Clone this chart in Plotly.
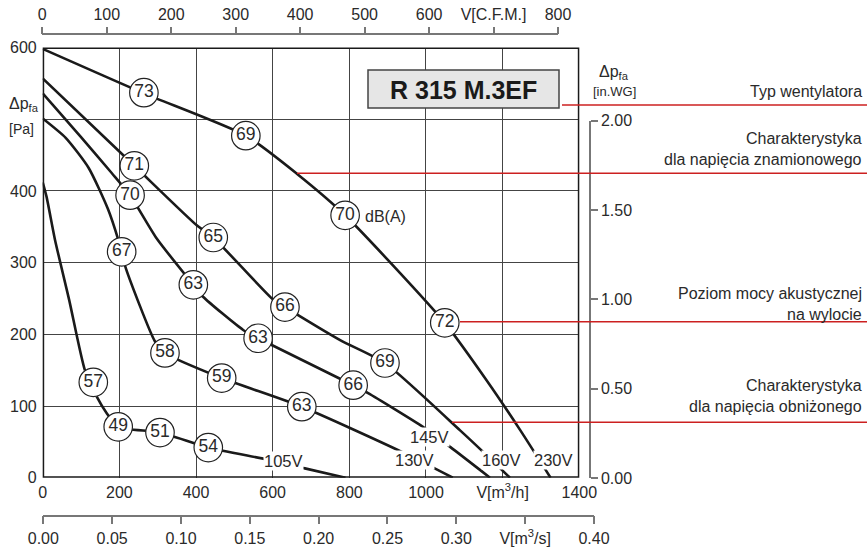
import plotly.graph_objects as go

W, H = 867, 549
FONT = "Liberation Sans, Arial, sans-serif"
TXT = "#2a2a2a"

# ---- data (V in m3/h, dp in Pa) ----
c230_x = [0, 264, 530, 663, 789, 1049, 1158, 1245, 1325]
c230_y = [598, 536, 477, 424, 366, 216, 136, 67, 0]
c160_x = [0, 239, 402, 445, 602, 632, 776, 893, 1089, 1149, 1219]
c160_y = [557, 435, 352, 335, 248, 238, 192, 160, 66, 36, 0]
c145_x = [0, 100, 180, 228, 297, 393, 419, 523, 562, 810, 849, 992, 1063, 1167]
c145_y = [536, 475, 425, 394, 334, 269, 252, 206, 194.5, 129, 118, 71, 43, 0]
c130_x = [0, 60, 120, 170, 197, 217, 293, 319, 467, 676, 937, 1070]
c130_y = [501, 474, 432, 375, 332, 292, 190, 174, 139, 99, 36, 0]
c105_x = [0, 10, 32, 69, 110, 141, 167, 197, 306, 432, 589, 684, 790]
c105_y = [412, 392, 332, 248, 150, 113, 90, 71, 63, 42, 25, 13, 0]

# sound power level markers dB(A)
db_x = [264, 530, 789, 1049, 239, 445, 632, 893, 228, 393, 562, 810, 206, 319, 467, 676, 132, 197, 306, 432]
db_y = [537, 477, 366, 216, 435, 335, 238, 160, 394, 269, 194.5, 129, 315, 174, 139, 99, 133, 71, 63, 42]
db_v = ["73", "69", "70", "72", "71", "65", "66", "69", "70", "63", "63", "66", "67", "58", "59", "63", "57", "49", "51", "54"]

volt_lbl = ["105V", "130V", "145V", "160V", "230V"]
volt_x = [627, 971, 1010, 1197, 1332]
volt_y = [23, 25, 57, 25, 25]

x_ticks = [0, 200, 400, 600, 800, 1000, 1200, 1400]
x_text = ["0", "200", "400", "600", "800", "1000", "V[m<sup>3</sup>/h]", "1400"]
y_ticks = [0, 100, 200, 300, 400, 500, 600]
y_text = ["0", "100", "200", "300", "400", " ", "600"]
cfm_ticks = [0, 100, 200, 300, 400, 500, 600, 700, 800]
cfm_text = ["0", "100", "200", "300", "400", "500", "600", "V[C.F.M.]", "800"]
ms_ticks = [0, 0.05, 0.10, 0.15, 0.20, 0.25, 0.30, 0.35, 0.40]
ms_text = ["0.00", "0.05", "0.10", "0.15", "0.20", "0.25", "0.30", "V[m<sup>3</sup>/s]", "0.40"]
wg_ticks = [0, 0.5, 1.0, 1.5, 2.0]
wg_text = ["0.00", "0.50", "1.00", "1.50", "2.00"]

model = "R 315 M.3EF"
notes = [("Typ wentylatora", None, 91, 105, 562),
         ("Charakterystyka", "dla napięcia znamionowego", 138, 173.3, 297),
         ("Poziom mocy akustycznej", "na wylocie", 293, 321.7, 460),
         ("Charakterystyka", "dla napięcia obniżonego", 385, 422.3, 452)]


def fx(p):
    return p / W


def fy(p):
    return 1 - p / H


fig = go.Figure()
for xs, ys in [(c230_x, c230_y), (c160_x, c160_y), (c145_x, c145_y), (c130_x, c130_y), (c105_x, c105_y)]:
    fig.add_trace(go.Scatter(x=xs, y=ys, mode="lines",
                             line=dict(color="#1a1a1a", width=2.6, shape="spline", smoothing=0.6),
                             hoverinfo="skip", showlegend=False))

fig.add_trace(go.Scatter(x=db_x, y=db_y, mode="markers+text", text=db_v,
                         textposition="middle center",
                         textfont=dict(family=FONT, size=17.5, color=TXT),
                         marker=dict(size=28.5, color="white", line=dict(color="#222", width=1.2)),
                         hoverinfo="skip", showlegend=False))

# dummy traces to render auxiliary axes
fig.add_trace(go.Scatter(x=[0], y=[0], xaxis="x2", yaxis="y3", mode="markers",
                         marker=dict(opacity=0), hoverinfo="skip", showlegend=False))
fig.add_trace(go.Scatter(x=[0], y=[0], xaxis="x3", yaxis="y3", mode="markers",
                         marker=dict(opacity=0), hoverinfo="skip", showlegend=False))
fig.add_trace(go.Scatter(x=[0], y=[0], xaxis="x4", yaxis="y2", mode="markers",
                         marker=dict(opacity=0), hoverinfo="skip", showlegend=False))

tf = dict(family=FONT, size=16, color=TXT)
x0p, x1p = 42.7, 579.3
y0p, y1p = 477.7, 47.5

fig.update_layout(
    width=W, height=H, margin=dict(l=0, r=0, t=0, b=0, pad=0, autoexpand=False),
    paper_bgcolor="white", plot_bgcolor="rgba(0,0,0,0)",
    font=dict(family=FONT, color=TXT),
    xaxis=dict(domain=[fx(x0p), fx(x1p)], range=[0, 1400], tickvals=x_ticks, ticktext=x_text,
               showgrid=True, gridcolor="#444", gridwidth=1, zeroline=False, showline=False,
               ticks="", tickfont=tf, anchor="y", fixedrange=True, automargin=False,
               ticklabelstandoff=3),
    yaxis=dict(domain=[fy(y0p), fy(y1p)], range=[0, 600], tickvals=y_ticks, ticktext=y_text,
               showgrid=True, gridcolor="#444", gridwidth=1, zeroline=False, showline=False,
               ticks="", tickfont=tf, anchor="x", fixedrange=True, automargin=False,
               ticklabelstandoff=5),
    xaxis2=dict(domain=[fx(42.3), fx(558)], range=[0, 800], anchor="free", position=fy(34.3),
                side="top", showline=True, linecolor="#777", linewidth=1.5, ticks="outside",
                ticklen=7, tickcolor="#777", tickwidth=1.5, tickvals=cfm_ticks, ticktext=cfm_text,
                showgrid=False, zeroline=False, tickfont=tf, fixedrange=True, automargin=False),
    xaxis3=dict(domain=[fx(43.3), fx(594)], range=[0, 0.40], anchor="free", position=fy(515.7),
                side="bottom", showline=True, linecolor="#777", linewidth=1.5, ticks="outside",
                ticklen=8, tickcolor="#777", tickwidth=1.5, tickvals=ms_ticks, ticktext=ms_text,
                showgrid=False, zeroline=False, tickfont=tf, fixedrange=True, automargin=False),
    xaxis4=dict(domain=[0, 0.05], visible=False, anchor="y2", fixedrange=True, automargin=False),
    yaxis2=dict(domain=[fy(478), fy(478 - 2.0 * 249.09 * (y0p - y1p) / 600)], range=[0, 2.0],
                anchor="free", position=fx(590), side="right", showline=True, linecolor="#777",
                linewidth=1.5, ticks="outside", ticklen=7, tickcolor="#777", tickwidth=1.5,
                tickvals=wg_ticks, ticktext=wg_text, showgrid=False, zeroline=False,
                tickfont=tf, fixedrange=True, automargin=False),
    yaxis3=dict(domain=[0, 0.05], visible=False, anchor="x2", range=[0, 1], fixedrange=True,
                automargin=False),
)

shapes = []
# plot border
shapes.append(dict(type="rect", xref="x", yref="y", x0=0, x1=1400, y0=0, y1=600,
                   line=dict(color="#1a1a1a", width=3), layer="above"))
# model box
shapes.append(dict(type="rect", xref="paper", yref="paper", x0=fx(368), x1=fx(559),
                   y0=fy(108), y1=fy(70), fillcolor="#e6e6e6",
                   line=dict(color="#444", width=1.5), layer="above"))
annotations = []
annotations.append(dict(xref="paper", yref="paper", x=fx(464), y=fy(90), text="<b>" + model + "</b>",
                        showarrow=False, font=dict(family=FONT, size=25, color="#1a1a1a"),
                        xanchor="center", yanchor="middle"))
for l1, l2, ty, ly, lx in notes:
    shapes.append(dict(type="line", xref="paper", yref="paper", x0=fx(lx), x1=1, y0=fy(ly), y1=fy(ly),
                       line=dict(color="#cc2020", width=1.5), layer="above"))
    annotations.append(dict(xref="paper", yref="paper", x=fx(864), y=fy(ty), text=l1, showarrow=False,
                            font=dict(family=FONT, size=16, color=TXT), xanchor="right", yanchor="middle"))
    if l2:
        annotations.append(dict(xref="paper", yref="paper", x=fx(864), y=fy(ty + 21.5), text=l2,
                                showarrow=False, font=dict(family=FONT, size=16, color=TXT),
                                xanchor="right", yanchor="middle"))

for t, x, y in zip(volt_lbl, volt_x, volt_y):
    annotations.append(dict(xref="x", yref="y", x=x, y=y, text=t, showarrow=False, bgcolor="white",
                            font=dict(family=FONT, size=16.5, color=TXT), xanchor="center", yanchor="middle",
                            borderpad=0))

annotations.append(dict(xref="x", yref="y", x=836, y=364, text="dB(A)", showarrow=False,
                        font=dict(family=FONT, size=16, color=TXT), xanchor="left", yanchor="middle"))
# axis titles
annotations.append(dict(xref="paper", yref="paper", x=fx(7), y=fy(104), text="Δp<sub>fa</sub>",
                        showarrow=False, font=dict(family=FONT, size=16, color=TXT), xanchor="left",
                        yanchor="middle"))
annotations.append(dict(xref="paper", yref="paper", x=fx(7), y=fy(129), text="[Pa]",
                        showarrow=False, font=dict(family=FONT, size=14, color=TXT), xanchor="left",
                        yanchor="middle"))
annotations.append(dict(xref="paper", yref="paper", x=fx(614), y=fy(72), text="Δp<sub>fa</sub>",
                        showarrow=False, font=dict(family=FONT, size=16, color=TXT), xanchor="center",
                        yanchor="middle"))
annotations.append(dict(xref="paper", yref="paper", x=fx(614), y=fy(91), text="[in.WG]",
                        showarrow=False, font=dict(family=FONT, size=13, color=TXT), xanchor="center",
                        yanchor="middle"))

fig.update_layout(shapes=shapes, annotations=annotations)
fig.write_html("out.html")
